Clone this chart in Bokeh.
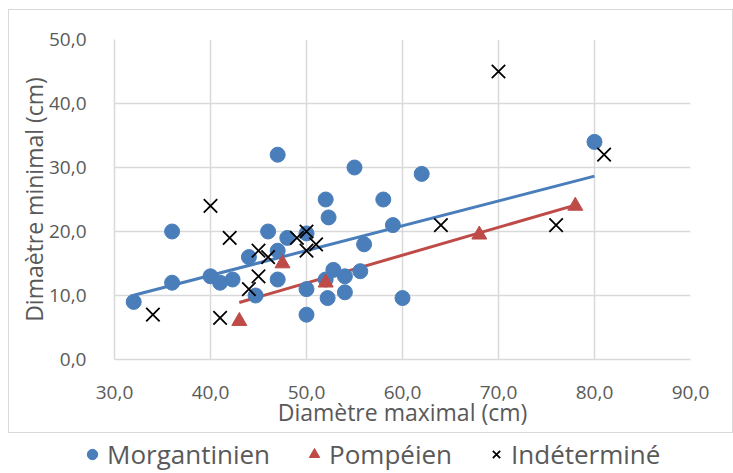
import numpy as np
from bokeh.plotting import figure
from bokeh.layouts import column
from bokeh.models import (Legend, LegendItem, FixedTicker, CustomJSTickFormatter,
                          Range1d, InlineStyleSheet)
from bokeh.embed import file_html
from bokeh.resources import INLINE

# ---- data ----
morg_x = [32, 36, 36, 40, 41, 42.3, 44, 44.7, 46, 47, 47, 47, 48, 50, 50, 50,
          52, 55, 62, 58, 52.3, 59, 56, 52.8, 52, 54, 55.6, 52.2, 54, 60, 80]
morg_y = [9, 20, 12, 13, 12, 12.5, 16, 10, 20, 32, 17, 12.5, 19, 19.7, 11, 7,
          25, 30, 29, 25, 22.2, 21, 18, 14, 12.5, 13, 13.8, 9.6, 10.5, 9.6, 34]

pomp_x = [43, 47.5, 52, 68, 78]
pomp_y = [6, 15, 12, 19.5, 24]

ind_x = [34, 40, 41, 42, 44, 45, 45, 46, 49, 50, 50, 51, 64, 70, 76, 81]
ind_y = [7, 24, 6.5, 19, 11, 13, 17, 16, 19, 20, 17, 18, 21, 45, 21, 32]

x_ticks = [30, 40, 50, 60, 70, 80, 90]
y_ticks = [0, 10, 20, 30, 40, 50]

series_names = ["Morgantinien", "Pompéien", "Indéterminé"]
x_title = "Diamètre maximal (cm)"
y_title = "Dimaètre minimal (cm)"

BLUE = "#4a7ebb"
RED = "#be4b48"
GRID = "#d9d9d9"
TXT = "#595959"
FONT = "Open Sans"

css = InlineStyleSheet(css="""
:host { position: relative; }
:host::after { content: ""; position: absolute; left: 8px; top: 9px;
  width: 725px; height: 424px; box-sizing: border-box;
  border: 1.5px solid #d9d9d9; pointer-events: none; }
""")

p = figure(width=733, height=433, output_backend="svg",
           toolbar_location=None, x_range=Range1d(30, 90), y_range=Range1d(0, 50),
           min_border_left=114, min_border_right=43, min_border_top=39,
           min_border_bottom=74, stylesheets=[css])
p.frame_align = False
p.outline_line_color = None
p.background_fill_color = "white"
p.border_fill_color = "white"

for ax, ticks in ((p.xaxis[0], x_ticks), (p.yaxis[0], y_ticks)):
    ax.ticker = FixedTicker(ticks=ticks)
    ax.formatter = CustomJSTickFormatter(code="return tick.toFixed(1).replace('.', ',');")
    ax.major_tick_line_color = None
    ax.minor_tick_line_color = None
    ax.axis_line_color = GRID
    ax.axis_line_width = 1.5
    ax.major_label_text_color = TXT
    ax.major_label_text_font = FONT
    ax.major_label_text_font_size = "19px"
    ax.axis_label_text_color = TXT
    ax.axis_label_text_font = FONT
    ax.axis_label_text_font_size = "23px"
    ax.axis_label_text_font_style = "normal"

p.xaxis.axis_label = x_title
p.yaxis.axis_label = y_title
p.xaxis.major_label_standoff = 20
p.xaxis.axis_label_standoff = -6
p.yaxis.major_label_standoff = 22
p.yaxis.axis_label_standoff = -4

p.xgrid.ticker = FixedTicker(ticks=x_ticks)
p.ygrid.ticker = FixedTicker(ticks=y_ticks)
for g in (p.xgrid[0], p.ygrid[0]):
    g.grid_line_color = GRID
    g.grid_line_width = 1.5

# trendlines (least squares fit of each series)
def trend(xs, ys):
    a, b = np.polyfit(xs, ys, 1)
    xx = [min(xs), max(xs)]
    return xx, [a * v + b for v in xx]

tx, ty = trend(morg_x, morg_y)
p.line(tx, ty, line_color=BLUE, line_width=3)
tx, ty = trend(pomp_x, pomp_y)
p.line(tx, ty, line_color=RED, line_width=3)

circle_style = dict(marker="circle", fill_color=BLUE, line_color=BLUE)
tri_style = dict(marker="triangle", fill_color=RED, line_color=RED)
x_style = dict(marker="x", line_color="black", line_width=1.8)

p.scatter(morg_x, morg_y, size=15, **circle_style)
p.scatter(pomp_x, pomp_y, size=15, **tri_style)
p.scatter(ind_x, ind_y, size=19, **x_style)

# legend strip below the chart area: the key renderers reuse the series data,
# which lies outside this strip's (0..1) ranges, so only the legend is seen
lg = figure(width=733, height=39, output_backend="svg", toolbar_location=None,
            x_range=Range1d(0, 1), y_range=Range1d(0, 1),
            x_axis_type=None, y_axis_type=None,
            min_border_left=0, min_border_right=0, min_border_top=0, min_border_bottom=0)
lg.frame_align = False
lg.outline_line_color = None
lg.xgrid.visible = False
lg.ygrid.visible = False
k1 = lg.scatter(morg_x, morg_y, size=15, **circle_style)
k2 = lg.scatter(pomp_x, pomp_y, size=15, **tri_style)
k3 = lg.scatter(ind_x, ind_y, size=19, **x_style)

legend = Legend(items=[LegendItem(label=series_names[0], renderers=[k1]),
                       LegendItem(label=series_names[1], renderers=[k2]),
                       LegendItem(label=series_names[2], renderers=[k3])],
                orientation="horizontal", location=(79, 0),
                glyph_width=26, glyph_height=26, label_standoff=2, spacing=31,
                padding=0, margin=0, border_line_color=None, background_fill_alpha=0,
                label_text_font=FONT, label_text_font_size="26px", label_text_color=TXT)
lg.add_layout(legend, "center")

layout = column(p, lg, spacing=0)
open("out.html", "w").write(file_html(layout, INLINE))
